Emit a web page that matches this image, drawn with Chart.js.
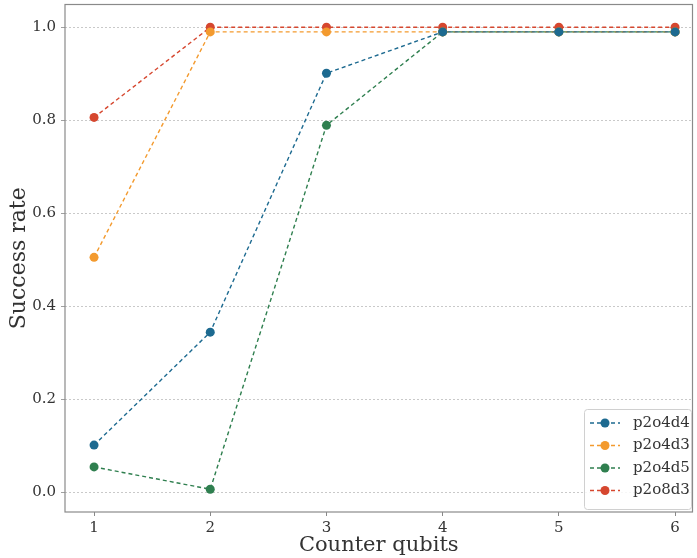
<!DOCTYPE html>
<html><head><meta charset="utf-8">
<script src="https://cdn.jsdelivr.net/npm/chart.js@4"></script>
<style>html,body{margin:0;padding:0;background:#fff}#wrap{width:697px;height:558px}</style>
</head><body><div id="wrap"><canvas id="c" width="697" height="558"></canvas></div>
<script>
const counterQubits = [1, 2, 3, 4, 5, 6];
const p2o4d4 = [0.101, 0.344, 0.901, 0.99, 0.99, 0.99];
const p2o4d3 = [0.505, 0.99, 0.99, 0.99, 0.99, 0.99];
const p2o4d5 = [0.054, 0.006, 0.789, 0.99, 0.99, 0.99];
const p2o8d3 = [0.806, 1.0, 1.0, 1.0, 1.0, 1.0];
const seriesNames = ['p2o4d4', 'p2o4d3', 'p2o4d5', 'p2o8d3'];
const yTicks = [0.0, 0.2, 0.4, 0.6, 0.8, 1.0];
const colors = ['#1d6a90', '#f39a2e', '#2f7f4f', '#d6472f'];
const FONT = "'DejaVu Serif', 'Liberation Serif', serif";

const allSeries = [p2o4d4, p2o4d3, p2o4d5, p2o8d3];
const datasets = allSeries.map((s, i) => ({
  label: seriesNames[i],
  data: counterQubits.map((x, j) => ({x: x, y: s[j]})),
  borderColor: colors[i],
  backgroundColor: colors[i],
  borderWidth: 1.4,
  borderDash: [4, 3],
  pointRadius: 4.5,
  pointHoverRadius: 4.5,
  pointBorderWidth: 0,
  tension: 0
}));

const framePlugin = {
  id: 'frame',
  afterDraw(chart) {
    const ctx = chart.ctx, a = chart.chartArea;
    ctx.save();
    ctx.strokeStyle = '#8a8a8a';
    ctx.lineWidth = 1.2;
    ctx.strokeRect(a.left, a.top, a.right - a.left, a.bottom - a.top);
    // legend
    const bx = 584.5, by = 409.5, bw = 107, bh = 100;
    ctx.fillStyle = 'rgba(255,255,255,0.85)';
    ctx.strokeStyle = '#d0d0d0';
    ctx.lineWidth = 1;
    ctx.beginPath();
    if (ctx.roundRect) ctx.roundRect(bx, by, bw, bh, 3); else ctx.rect(bx, by, bw, bh);
    ctx.fill(); ctx.stroke();
    chart.data.datasets.forEach((d, i) => {
      const y = 423 + i * 22.5;
      ctx.strokeStyle = d.borderColor;
      ctx.lineWidth = 1.4;
      ctx.setLineDash([4, 3]);
      ctx.beginPath(); ctx.moveTo(590, y); ctx.lineTo(620, y); ctx.stroke();
      ctx.setLineDash([]);
      ctx.fillStyle = d.backgroundColor;
      ctx.beginPath(); ctx.arc(605, y, 4.5, 0, Math.PI * 2); ctx.fill();
      ctx.fillStyle = '#333';
      ctx.font = '15px ' + FONT;
      ctx.textBaseline = 'middle';
      ctx.textAlign = 'left';
      ctx.fillText(d.label, 633, y);
    });
    ctx.restore();
  }
};

new Chart(document.getElementById('c'), {
  type: 'line',
  data: {datasets},
  options: {
    responsive: false,
    animation: false,
    layout: {padding: {top: 4, right: 4, left: 0, bottom: 0}},
    plugins: {legend: {display: false}, tooltip: {enabled: false}},
    scales: {
      x: {
        type: 'linear', min: 0.75, max: 6.15,
        afterBuildTicks(s) { s.ticks = counterQubits.map(v => ({value: v})); },
        afterFit(s) { s.height = 46; s.paddingLeft = 0; s.paddingRight = 0; },
        grid: {display: true, drawOnChartArea: false, drawTicks: true, tickLength: 4, color: '#888', tickColor: '#888'},
        border: {display: false},
        ticks: {color: '#333', font: {family: FONT, size: 15}, padding: 3, callback: v => String(v)},
        title: {display: true, text: 'Counter qubits', color: '#333', font: {family: FONT, size: 21}, padding: {top: 0, bottom: 0}}
      },
      y: {
        type: 'linear', min: -0.043, max: 1.049,
        afterBuildTicks(s) { s.ticks = yTicks.map(v => ({value: v})); },
        afterFit(s) { s.width = 65; s.paddingTop = 0; s.paddingBottom = 0; },
        grid: {display: true, drawTicks: true, tickLength: 4, tickColor: '#888', tickBorderDash: [], color: '#bbbbbb', lineWidth: 0.8},
        border: {display: false, dash: [2, 2]},
        ticks: {color: '#333', font: {family: FONT, size: 15}, padding: 5, callback: v => Number(v).toFixed(1)},
        title: {display: true, text: 'Success rate', color: '#333', font: {family: FONT, size: 22}, padding: {top: 6, bottom: 0}}
      }
    }
  },
  plugins: [framePlugin]
});
</script>
</body></html>
